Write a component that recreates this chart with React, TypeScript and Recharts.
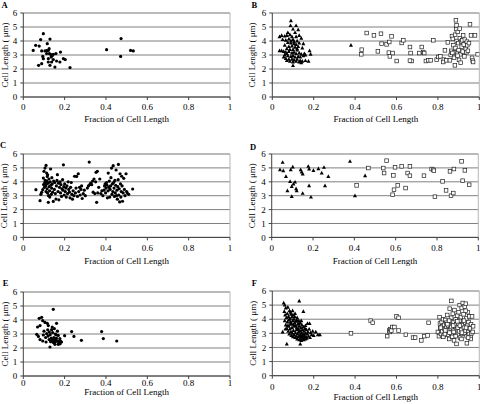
import React from 'react';
import { ScatterChart, Scatter, XAxis, YAxis, CartesianGrid, ReferenceLine } from 'recharts';

// ---------- labels / ticks ----------
const xTicks = [0, 0.2, 0.4, 0.6, 0.8, 1];
const yTicks = [0, 1, 2, 3, 4, 5, 6];
const panelLetters = ['A', 'B', 'C', 'D', 'E', 'F'];
const xTitle = 'Fraction of Cell Length';
const yTitle = 'Cell Length ( \u03bcm)';

// ---------- data: [fraction, length] ----------
const aDots: number[][] = [
  [0.048,3.33],[0.06,3.69],[0.077,3.64],[0.084,4.10],[0.097,4.52],[0.074,2.26],[0.089,2.38],[0.094,2.90],
  [0.097,2.74],[0.089,3.29],[0.105,3.29],[0.113,3.31],[0.121,3.33],[0.116,3.81],[0.129,4.14],[0.126,3.10],
  [0.132,3.05],[0.121,2.74],[0.121,2.50],[0.129,2.26],[0.137,2.50],[0.145,2.67],[0.153,2.14],[0.145,3.05],
  [0.158,3.10],[0.161,2.57],[0.140,2.95],[0.177,2.50],[0.180,3.21],[0.194,2.74],[0.203,2.67],[0.226,2.10],
  [0.113,3.10],[0.125,3.45],[0.135,2.85],[0.403,3.38],[0.473,4.17],[0.471,2.90],[0.519,3.33],[0.532,3.29],
];

const bTriangles: number[][] = [
  [0.090,5.45],[0.088,5.10],[0.115,5.10],[0.100,4.85],[0.075,4.60],[0.110,4.60],[0.125,4.80],[0.060,4.35],
  [0.045,4.40],[0.035,4.30],[0.070,4.40],[0.085,4.45],[0.095,4.30],[0.115,4.30],[0.130,4.40],[0.050,4.10],
  [0.065,4.05],[0.080,4.15],[0.100,4.10],[0.120,4.00],[0.140,4.20],[0.075,3.90],[0.090,3.85],[0.105,3.95],
  [0.115,3.75],[0.130,3.85],[0.150,3.80],[0.060,3.70],[0.080,3.60],[0.095,3.65],[0.110,3.55],[0.125,3.60],
  [0.145,3.50],[0.070,3.45],[0.085,3.40],[0.100,3.40],[0.120,3.35],[0.035,3.30],[0.045,3.30],[0.055,3.25],
  [0.065,3.20],[0.080,3.25],[0.095,3.15],[0.105,3.20],[0.115,3.10],[0.130,3.15],[0.140,3.05],[0.155,3.10],
  [0.180,3.30],[0.185,3.05],[0.060,3.00],[0.075,2.95],[0.090,2.90],[0.100,2.95],[0.110,2.85],[0.125,2.90],
  [0.135,2.85],[0.150,2.95],[0.160,3.00],[0.055,2.85],[0.065,2.75],[0.080,2.70],[0.095,2.70],[0.105,2.65],
  [0.120,2.70],[0.135,2.60],[0.145,2.55],[0.160,2.60],[0.175,2.55],[0.070,2.60],[0.085,2.55],[0.100,2.50],
  [0.115,2.55],[0.130,2.50],[0.140,2.45],[0.100,2.25],[0.090,4.00],[0.105,3.80],[0.070,3.10],[0.120,3.45],
  [0.380,3.70],
];

const bSquares: number[][] = [
  [0.432,3.38],[0.430,3.05],[0.456,4.57],[0.491,4.40],[0.525,4.52],[0.528,3.81],[0.510,3.26],[0.552,3.76],
  [0.565,3.93],[0.576,4.33],[0.563,3.17],[0.568,2.90],[0.581,3.14],[0.601,2.57],[0.625,3.86],[0.633,4.05],
  [0.665,3.57],[0.668,3.14],[0.673,2.57],[0.665,2.60],[0.710,3.14],[0.722,3.57],[0.729,3.21],[0.734,3.14],
  [0.742,2.57],[0.754,2.62],[0.765,2.62],[0.778,4.05],[0.794,2.67],[0.802,2.86],[0.812,2.90],[0.829,2.67],
  [0.826,2.50],[0.834,3.33],[0.840,2.62],[0.848,3.90],[0.858,2.62],[0.862,3.00],[0.865,3.30],[0.868,4.35],
  [0.872,4.15],[0.875,3.70],[0.878,2.80],[0.880,3.20],[0.883,4.45],[0.885,3.50],[0.887,5.48],[0.889,4.85],
  [0.890,5.12],[0.891,4.00],[0.893,3.10],[0.882,2.26],[0.896,4.65],[0.898,3.85],[0.900,3.35],[0.902,2.65],
  [0.905,4.88],[0.906,4.20],[0.908,3.05],[0.912,3.95],[0.915,3.60],[0.918,4.05],[0.920,3.25],[0.922,4.40],
  [0.925,3.75],[0.928,2.90],[0.930,4.10],[0.935,3.45],[0.938,3.20],[0.940,3.95],[0.942,3.70],[0.945,3.30],
  [0.955,5.19],[0.960,4.40],[0.965,2.80],[0.968,2.60],[0.970,2.50],[0.979,4.40],[0.992,3.05],[0.950,3.85],
  [0.910,2.45],[0.870,3.15],[0.895,2.95],
];

const cDots: number[][] = [
  [0.061,3.43],[0.081,2.64],[0.085,3.10],[0.089,3.24],[0.094,3.43],[0.097,4.27],[0.100,4.75],[0.105,4.99],
  [0.110,5.18],[0.113,4.63],[0.116,4.39],[0.098,3.80],[0.102,3.60],[0.104,3.95],[0.106,4.10],[0.108,3.70],
  [0.110,3.30],[0.112,3.85],[0.114,4.05],[0.115,3.50],[0.117,3.20],[0.118,4.50],[0.120,3.90],[0.121,2.52],
  [0.122,3.00],[0.124,4.20],[0.125,3.65],[0.127,3.35],[0.128,2.90],[0.130,4.00],[0.132,4.92],[0.133,3.75],
  [0.135,3.10],[0.137,3.55],[0.138,4.30],[0.140,3.85],[0.142,3.25],[0.145,2.59],[0.147,4.05],[0.150,3.45],
  [0.152,3.95],[0.155,3.15],[0.158,2.76],[0.160,3.70],[0.163,4.10],[0.165,4.51],
  [0.168,3.30],[0.170,3.90],[0.172,2.70],[0.175,3.60],[0.178,4.00],[0.180,3.20],[0.182,3.80],[0.185,2.95],
  [0.187,3.50],[0.190,4.15],[0.192,3.40],[0.194,5.22],[0.196,3.65],[0.198,3.05],[0.200,3.85],[0.203,3.30],
  [0.206,3.55],[0.208,2.90],[0.211,3.70],[0.214,3.15],[0.217,4.00],[0.220,3.45],[0.223,3.25],[0.226,2.85],
  [0.229,3.60],[0.232,3.95],[0.235,3.10],[0.238,2.75],[0.241,3.35],[0.245,3.00],[0.248,4.40],[0.252,3.20],
  [0.255,3.55],[0.258,4.39],[0.262,2.95],[0.266,4.58],[0.268,3.30],[0.272,3.60],[0.275,3.05],[0.279,3.45],
  [0.282,3.70],[0.285,2.80],[0.290,3.15],[0.295,3.40],[0.300,3.00],
  [0.310,3.55],[0.315,3.70],[0.319,5.42],[0.322,3.80],[0.326,3.90],[0.331,3.79],[0.335,4.05],[0.338,3.25],
  [0.342,4.20],[0.346,3.15],[0.350,4.00],[0.352,4.68],[0.355,2.52],[0.358,4.75],[0.360,3.20],[0.365,3.60],
  [0.370,4.20],[0.375,3.15],[0.380,3.35],[0.385,3.00],
  [0.390,3.40],[0.393,3.70],[0.396,3.85],[0.398,3.20],[0.400,3.55],[0.403,3.95],[0.405,3.75],[0.407,2.85],
  [0.410,3.35],[0.411,4.63],[0.414,3.60],[0.416,4.05],[0.418,2.90],[0.420,3.45],[0.422,3.70],[0.424,4.30],
  [0.427,4.99],[0.429,3.10],[0.431,3.85],[0.433,3.30],[0.435,5.16],[0.437,3.95],[0.439,3.55],[0.441,2.95],
  [0.443,4.10],[0.445,3.20],[0.447,3.75],[0.449,4.85],[0.451,3.00],[0.453,3.40],[0.455,2.75],[0.457,3.65],
  [0.459,4.15],[0.460,5.25],[0.462,3.05],[0.464,3.50],[0.466,2.55],[0.468,4.58],[0.470,3.85],[0.472,2.90],
  [0.474,3.30],[0.476,4.40],[0.478,3.70],[0.480,2.60],[0.483,3.20],[0.486,4.25],[0.489,3.45],[0.492,3.00],
  [0.497,4.58],[0.500,3.30],[0.503,3.19],[0.510,3.10],[0.529,3.48],
];

const dTriangles: number[][] = [
  [0.053,5.40],[0.040,4.87],[0.056,4.80],[0.069,4.39],[0.076,3.36],[0.089,4.03],[0.097,3.67],[0.097,2.95],
  [0.102,5.06],[0.092,4.87],[0.105,3.84],[0.113,3.98],[0.118,3.50],[0.121,3.36],[0.140,4.87],[0.145,4.70],
  [0.150,4.56],[0.150,3.17],[0.177,5.11],[0.181,4.92],[0.181,3.72],[0.190,2.90],[0.202,4.82],[0.226,4.94],
  [0.242,4.63],[0.253,5.04],[0.258,3.72],[0.274,4.39],[0.379,5.47],[0.403,3.00],[0.452,4.44],
];

const dSquares: number[][] = [
  [0.411,3.74],[0.468,4.99],[0.540,4.99],[0.544,4.63],[0.556,5.52],[0.597,5.04],[0.589,4.46],[0.592,3.43],
  [0.585,3.07],[0.610,3.74],[0.629,5.11],[0.648,3.55],[0.658,4.63],[0.669,5.11],[0.669,4.44],[0.737,4.44],
  [0.774,4.92],[0.782,4.87],[0.785,4.80],[0.790,2.93],[0.827,4.03],[0.844,3.38],[0.863,4.75],[0.868,3.00],
  [0.879,3.19],[0.882,4.92],[0.919,5.47],[0.924,4.08],[0.935,4.82],[0.956,3.79],
];

const eDots: number[][] = [
  [0.145,4.76],[0.069,3.50],[0.077,4.12],[0.089,4.19],[0.094,3.95],[0.105,3.83],[0.116,3.76],[0.121,3.60],
  [0.081,3.60],[0.161,3.76],[0.065,2.98],[0.073,2.83],[0.081,2.60],[0.094,2.50],[0.110,2.43],[0.129,2.07],
  [0.158,2.55],[0.150,3.38],[0.137,3.31],[0.126,3.14],[0.113,3.02],[0.097,2.93],[0.155,3.00],[0.169,2.90],
  [0.177,2.67],[0.185,2.43],[0.169,2.26],[0.153,2.26],[0.145,2.40],[0.200,2.88],[0.234,3.17],[0.245,2.83],
  [0.281,2.55],[0.379,3.17],[0.387,2.67],[0.452,2.50],[0.120,2.85],[0.130,2.95],[0.135,2.70],[0.140,2.60],
  [0.142,3.10],[0.148,2.75],[0.150,2.55],[0.155,2.45],[0.160,2.70],[0.163,2.50],[0.165,3.20],[0.170,2.50],
  [0.172,2.35],[0.175,2.40],[0.180,2.50],[0.178,2.30],[0.125,2.60],[0.118,3.30],[0.108,2.75],[0.100,3.20],
  [0.140,3.50],[0.132,2.45],[0.158,2.95],
];

const fTriangles: number[][] = [
  [0.055,5.15],[0.060,5.00],[0.065,4.80],[0.058,4.55],[0.130,5.30],[0.150,4.55],[0.070,2.25],[0.135,2.25],
  [0.050,3.10],[0.210,3.10],[0.220,2.90],[0.230,2.90],[0.170,3.70],[0.180,3.70],[0.062,4.30],[0.068,4.10],
  [0.072,4.40],[0.075,4.85],[0.078,4.20],[0.080,3.95],[0.083,4.60],[0.085,4.05],[0.088,3.80],[0.090,4.35],
  [0.093,3.70],[0.095,4.15],[0.098,3.90],[0.100,4.30],[0.103,3.60],[0.105,4.00],[0.108,3.75],[0.110,4.40],
  [0.113,3.55],[0.115,3.85],[0.118,3.40],[0.120,4.10],[0.123,3.65],[0.125,3.30],[0.128,3.90],[0.130,3.50],
  [0.133,3.20],[0.135,3.75],[0.138,3.40],[0.140,3.05],[0.143,3.60],[0.145,3.25],[0.148,2.95],[0.150,3.45],
  [0.153,3.15],[0.155,2.85],[0.158,3.35],[0.160,3.00],[0.163,2.75],[0.165,3.25],[0.168,2.95],[0.172,3.10],
  [0.175,2.80],[0.178,3.30],[0.182,2.70],[0.185,3.05],[0.190,2.90],[0.195,3.15],[0.200,2.85],[0.065,3.60],
  [0.070,3.35],[0.073,3.80],[0.077,3.15],[0.080,3.50],[0.082,2.95],[0.085,3.30],[0.087,3.65],[0.090,3.10],
  [0.092,2.85],[0.095,3.40],[0.097,3.00],[0.100,2.75],[0.102,3.20],[0.105,2.90],[0.107,3.50],[0.110,2.70],
  [0.112,3.05],[0.115,2.80],[0.117,3.25],[0.120,2.60],[0.122,2.95],[0.125,2.75],[0.127,3.10],[0.130,2.55],
  [0.132,2.85],[0.135,2.65],[0.138,2.90],[0.140,2.50],[0.143,2.75],[0.145,2.60],[0.148,2.80],[0.152,2.55],
  [0.156,2.70],[0.160,2.60],[0.166,2.65],[0.060,3.90],[0.063,3.30],[0.075,3.55],[0.088,4.50],[0.098,4.60],
  [0.108,4.20],[0.118,3.95],[0.128,3.70],[0.140,3.90],[0.160,3.55],
];

const fSquares: number[][] = [
  [0.380,3.00],[0.475,3.90],[0.485,3.75],[0.555,2.80],[0.565,3.20],[0.568,3.10],[0.570,3.30],[0.575,3.20],
  [0.580,3.45],[0.590,3.45],[0.600,4.20],[0.610,4.10],[0.610,3.20],[0.645,2.90],[0.680,2.70],[0.690,2.70],
  [0.720,2.50],[0.735,2.80],[0.750,2.85],[0.755,3.75],[0.800,3.10],[0.805,2.80],
  [0.808,4.15],[0.810,3.70],[0.812,3.35],[0.815,2.95],[0.818,3.80],[0.820,3.50],[0.822,3.15],[0.825,4.00],
  [0.828,2.85],[0.830,3.60],[0.832,3.30],[0.835,3.95],[0.838,3.05],[0.840,3.75],[0.842,3.45],[0.845,4.30],
  [0.848,2.90],[0.850,3.55],[0.852,3.20],[0.855,2.60],[0.857,4.75],[0.860,3.85],[0.862,3.35],[0.864,4.10],
  [0.865,5.30],[0.866,3.00],[0.868,3.60],[0.870,2.75],[0.872,4.40],[0.874,3.25],[0.876,3.80],[0.878,2.50],
  [0.880,4.65],[0.882,3.45],[0.884,3.05],[0.886,4.00],[0.888,3.65],[0.890,2.25],[0.892,3.30],[0.894,4.25],
  [0.896,2.90],[0.898,3.70],[0.900,4.50],[0.902,3.15],[0.904,3.90],[0.905,5.00],[0.907,2.70],[0.909,3.50],
  [0.911,4.15],[0.913,3.25],[0.915,4.80],[0.917,3.60],[0.919,2.95],[0.920,5.15],[0.922,3.85],[0.924,4.35],
  [0.926,3.40],[0.928,3.00],[0.930,4.90],[0.932,3.75],[0.934,3.20],[0.935,5.10],[0.937,4.05],[0.939,2.80],
  [0.940,2.30],[0.942,3.55],[0.944,4.50],[0.946,3.10],[0.948,3.80],[0.950,2.95],[0.952,4.20],[0.955,3.35],
  [0.958,2.75],[0.960,3.65],[0.962,3.00],[0.965,4.20],[0.968,3.10],[0.970,3.50],[0.958,2.60],[0.826,2.75],
  [0.836,3.20],[0.846,3.65],[0.856,3.05],[0.866,3.45],[0.876,3.10],[0.886,2.80],[0.896,3.40],[0.906,3.55],
  [0.916,3.05],[0.926,3.90],[0.936,3.40],[0.946,2.70],[0.814,3.40],[0.834,2.95],[0.854,3.90],[0.874,3.55],
  [0.894,3.85],[0.914,2.60],[0.934,4.60],
];

// ---------- styling / layout ----------
const FONT = 'Liberation Serif, Times New Roman, serif';
const toPts = (arr: number[][]) => arr.map(([x, y]) => ({ x, y }));

const DotShape = (p: any) => <circle cx={p.cx} cy={p.cy} r={1.6} fill="#000" />;
const TriShape = (p: any) => (
  <path d={`M${p.cx},${p.cy - 2.2}L${p.cx + 2},${p.cy + 1.5}L${p.cx - 2},${p.cy + 1.5}Z`} fill="#000" />
);
const SqShape = (p: any) => (
  <rect x={p.cx - 1.8} y={p.cy - 1.8} width={3.6} height={3.6} fill="#fff" stroke="#222" strokeWidth={0.7} />
);

type Spec = { px: number; L: number; R: number; T: number; B: number; titleY: number; ylabX: number; tickOff: number };

const specs: Spec[] = [
  { px: 0, L: 23.3, R: 230, T: 12.7, B: 96.7, titleY: 118.3, ylabX: 5, tickOff: 10 },
  { px: 240, L: 272.3, R: 479.3, T: 12.7, B: 96.7, titleY: 118.3, ylabX: 251.7, tickOff: 10 },
  { px: 0, L: 23.3, R: 230, T: 154.3, B: 237.7, titleY: 261.7, ylabX: 3.3, tickOff: 10.7 },
  { px: 240, L: 271.7, R: 478.3, T: 154.3, B: 237.7, titleY: 261.7, ylabX: 251.7, tickOff: 10.7 },
  { px: 0, L: 23.3, R: 230, T: 291.7, B: 375.7, titleY: 391.3, ylabX: 5, tickOff: 7.4 },
  { px: 240, L: 272.3, R: 479.3, T: 291, B: 375.7, titleY: 396.7, ylabX: 252.7, tickOff: 11 },
];

const letterPos = [
  [1.5, 7.5], [251.5, 7.5], [0, 147.7], [250, 150], [2.7, 286], [251.7, 286],
];

type Series = { data: number[][]; shape: any };

const panelSeries: Series[][] = [
  [{ data: aDots, shape: DotShape }],
  [{ data: bTriangles, shape: TriShape }, { data: bSquares, shape: SqShape }],
  [{ data: cDots, shape: DotShape }],
  [{ data: dTriangles, shape: TriShape }, { data: dSquares, shape: SqShape }],
  [{ data: eDots, shape: DotShape }],
  [{ data: fTriangles, shape: TriShape }, { data: fSquares, shape: SqShape }],
];

function Panel({ spec, series }: { spec: Spec; series: Series[] }) {
  const topPad = 12;
  const axisH = 36;
  const top = spec.T - topPad;
  const height = spec.B - top + axisH;
  const tickFont = { fontSize: 9, fontFamily: FONT, fill: '#000' };
  return (
    <div style={{ position: 'absolute', left: spec.px, top, width: 240, height }}>
      <ScatterChart
        width={240}
        height={height}
        margin={{ top: topPad, right: spec.px + 240 - spec.R, bottom: 0, left: 0 }}
        style={{ fontFamily: FONT }}
      >
        <CartesianGrid vertical={false} stroke="#7f7f7f" strokeWidth={1} />
        <ReferenceLine y={6} stroke="#b5b5b5" strokeWidth={1} />
        <ReferenceLine x={1} stroke="#b5b5b5" strokeWidth={1} />
        <XAxis
          type="number"
          dataKey="x"
          domain={[0, 1]}
          ticks={xTicks}
          interval={0}
          tickFormatter={(v: number) => String(v)}
          tickSize={3}
          tickMargin={spec.tickOff - 6.4}
          height={axisH}
          stroke="#404040"
          tick={tickFont}
          allowDataOverflow
          label={{
            value: xTitle,
            position: 'insideTop',
            offset: spec.titleY - spec.B - 3.4,
            style: { fontSize: 9, fontFamily: FONT, fill: '#000' },
          }}
        />
        <YAxis
          type="number"
          dataKey="y"
          domain={[0, 6]}
          ticks={yTicks}
          interval={0}
          tickSize={3}
          tickMargin={3}
          width={spec.L - spec.px}
          stroke="#404040"
          tick={tickFont}
          allowDataOverflow
          label={{
            value: yTitle,
            angle: -90,
            position: 'insideLeft',
            offset: spec.ylabX - spec.px,
            style: { fontSize: 9, fontFamily: FONT, fill: '#000', textAnchor: 'middle' },
          }}
        />
        {series.map((s, i) => (
          <Scatter key={i} data={toPts(s.data)} shape={s.shape} isAnimationActive={false} />
        ))}
      </ScatterChart>
    </div>
  );
}

export default function App() {
  return (
    <div
      style={{
        position: 'absolute',
        left: 0,
        top: 0,
        width: 480,
        height: 404,
        overflow: 'hidden',
        background: '#fff',
        fontFamily: FONT,
      }}
    >
      {specs.map((s, i) => (
        <Panel key={i} spec={s} series={panelSeries[i]} />
      ))}
      <svg width={480} height={404} style={{ position: 'absolute', left: 0, top: 0, pointerEvents: 'none' }}>
        {panelLetters.map((l, i) => (
          <text
            key={l}
            x={letterPos[i][0]}
            y={letterPos[i][1]}
            fontSize={8.5}
            fontWeight="bold"
            fontFamily={FONT}
            fill="#000"
          >
            {l}
          </text>
        ))}
      </svg>
    </div>
  );
}
